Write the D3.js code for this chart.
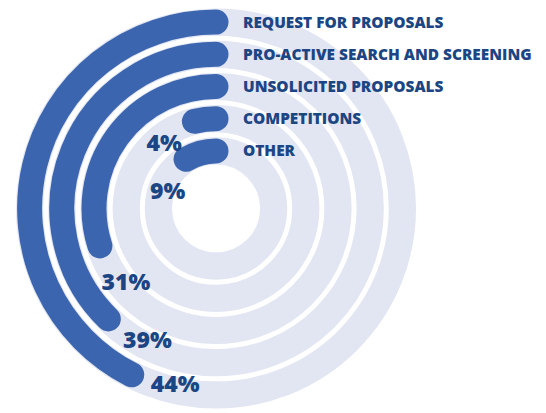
<!DOCTYPE html>
<html>
<head>
<meta charset="utf-8">
<script src="https://cdn.jsdelivr.net/npm/d3@7"></script>
<style>
  html, body { margin: 0; padding: 0; background: #ffffff; }
  svg { display: block; }
</style>
</head>
<body>
<svg id="chart" width="546" height="413"></svg>
<script>
// ---- data ----
const categories = [
  "REQUEST FOR PROPOSALS",
  "PRO-ACTIVE SEARCH AND SCREENING",
  "UNSOLICITED PROPOSALS",
  "COMPETITIONS",
  "OTHER"
];
const values = [44, 39, 31, 4, 9];
const percentDomain = [0, 100];

// ---- layout / style ----
const W = 546, H = 413;
const cx = 216, cy = 208.5;
const outerR = 200, holeR = 44;
const ringGap = 5;
const barWidth = 25;
const maxSweepDeg = 348;
const colors = { track: "#e2e5f2", bar: "#3b66af", text: "#1c4683" };

const svg = d3.select("#chart");
const g = svg.append("g").attr("transform", `translate(${cx},${cy})`);

const ringStep = (outerR - holeR + ringGap) / categories.length;
const r = d3.scaleBand()
  .domain(categories)
  .range([outerR, holeR])
  .paddingInner(ringGap / ringStep)
  .paddingOuter(0);
const trackW = r.bandwidth();
const mid = c => r(c) + trackW / 2;

const angle = d3.scaleLinear()
  .domain(percentDomain)
  .range([0, maxSweepDeg * Math.PI / 180]);

// tracks
g.selectAll("circle.track")
  .data(categories)
  .join("circle")
  .attr("class", "track")
  .attr("r", d => mid(d))
  .attr("fill", "none")
  .attr("stroke", colors.track)
  .attr("stroke-width", trackW);

// bars (counter-clockwise from 12 o'clock, rounded ends)
const data = categories.map((c, i) => ({ c, v: values[i] }));
g.selectAll("path.bar")
  .data(data)
  .join("path")
  .attr("class", "bar")
  .attr("d", d => {
    const p = d3.path();
    const a0 = -Math.PI / 2;
    p.arc(0, 0, mid(d.c), a0, a0 - angle(d.v), true);
    return p.toString();
  })
  .attr("fill", "none")
  .attr("stroke", colors.bar)
  .attr("stroke-width", barWidth)
  .attr("stroke-linecap", "round");

// category labels
g.selectAll("text.cat")
  .data(categories)
  .join("text")
  .attr("class", "cat")
  .attr("x", 27)
  .attr("y", d => -mid(d))
  .attr("dy", "0.36em")
  .attr("fill", colors.text)
  .style("font-family", "'Open Sans', sans-serif")
  .style("font-weight", 800)
  .style("font-size", "15.4px")
  .text(d => d);

// percentage labels just past the end of each bar
const fmt = v => d3.format(".0%")(v / 100);
const pct = g.selectAll("text.pct")
  .data(data)
  .join("text")
  .attr("class", "pct")
  .attr("text-anchor", "middle")
  .attr("dy", "0.36em")
  .attr("fill", colors.text)
  .style("font-family", "'Open Sans', sans-serif")
  .style("font-weight", 800)
  .style("font-size", "23px")
  .text(d => fmt(d.v));

pct.each(function(d) {
  const w = this.getComputedTextLength();
  const rm = mid(d.c);
  const arcDist = barWidth / 2 + 8 + w / 2;
  const a = angle(d.v) + arcDist / rm;   // counter-clockwise from top
  const rr = rm - 6;
  d3.select(this)
    .attr("x", -Math.sin(a) * rr)
    .attr("y", -Math.cos(a) * rr);
});
</script>
</body>
</html>
